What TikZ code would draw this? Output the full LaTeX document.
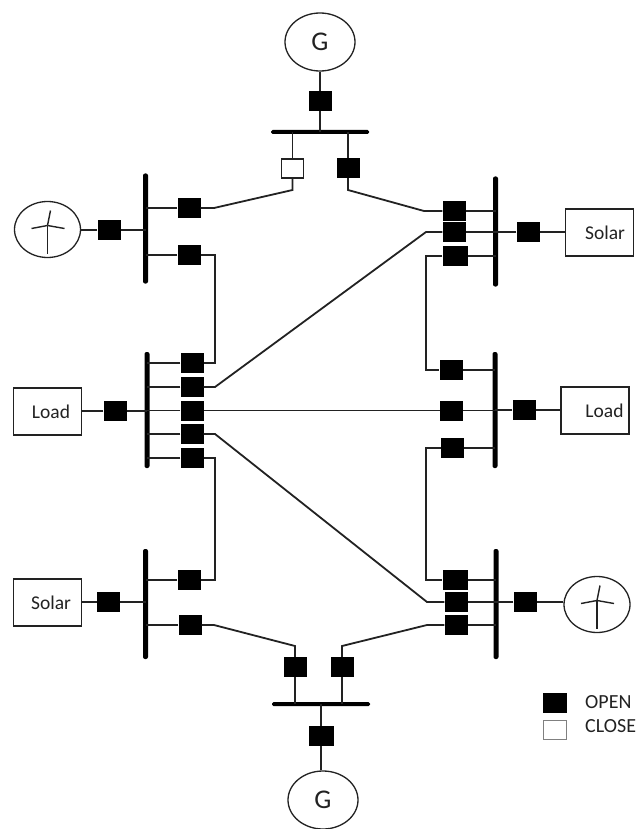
\documentclass[tikz,border=0pt]{standalone}
\usepackage{fontspec}
\setmainfont{Carlito}
\usetikzlibrary{shapes.geometric}
\definecolor{ink}{HTML}{222222}
\tikzset{
  wire/.style={draw=ink,line width=1.4pt},
  slant/.style={draw=ink,line width=1.8pt},
  brk/.style={fill=black,inner sep=0pt,minimum width=23pt,minimum height=20pt},
  brkw/.style={brk,minimum width=25pt},
  closed/.style={draw=ink,line width=1.2pt,fill=white,inner sep=0pt,minimum width=22pt,minimum height=19pt},
  vbus/.style={fill=black,inner sep=0pt,rounded corners=2pt,minimum width=5pt,minimum height=110pt},
  hbus/.style={fill=black,inner sep=0pt,rounded corners=1.5pt,minimum width=98pt,minimum height=4pt},
  unit/.style={ellipse,draw=ink,line width=1.3pt,fill=white,inner sep=0pt,minimum width=66pt,minimum height=56pt},
  term/.style={draw=ink,line width=1.2pt,fill=white,inner sep=0pt,minimum width=68pt,minimum height=47pt,text=ink,font=\fontsize{19.5}{22}\selectfont},
  legend/.style={anchor=west,inner sep=0pt,text=ink,font=\fontsize{20}{22}\selectfont},
  gen/.style={unit,minimum width=70pt,minimum height=58pt,text=ink,font=\fontsize{27}{30}\selectfont}
}
\begin{document}
\begin{tikzpicture}[x=1pt,y=-1pt]
  \useasboundingbox (0,0) rectangle (638,829);
  \path
  % busbars
  (320,132) node[hbus](busT) {}
  (321,704) node[hbus](busB) {}
  (145.5,228.5) node[vbus](busLa) {}
  (147,410) node[vbus,minimum height=116pt](busLb) {}
  (145.5,604) node[vbus](busLc) {}
  (495.5,231.5) node[vbus](busRa) {}
  (495,410) node[vbus,minimum height=116pt](busRb) {}
  (496,604) node[vbus](busRc) {}
  % sources and loads
  (320,42) node[gen](genT) {G}
  (323,800) node[gen](genB) {G}
  (47.5,229.5) node[unit](windL) {}
  (597,604.5) node[unit](windR) {}
  (47.5,411.5) node[term](loadL) {\hspace*{7pt}Load}
  (595,410.5) node[term](loadR) {\hspace*{19pt}Load}
  (599.5,232.5) node[term](solarR) {\hspace*{11pt}Solar}
  (47.5,602.5) node[term](solarL) {\hspace*{7pt}Solar}
  % breakers
  (320,101) node[brk](brkGT) {}
  (292.5,168.5) node[closed](brkTl) {}
  (348,168) node[brk](brkTr) {}
  (321,736) node[brkw](brkGB) {}
  (295,667) node[brk](brkBl) {}
  (342,667) node[brk](brkBr) {}
  (109,230) node[brk](brkWL) {}
  (189,208) node[brk](brkLa) {}
  (189,255) node[brk](brkLb) {}
  (192,363) node[brk](brkMa) {}
  (192,387) node[brk](brkMb) {}
  (192,410.5) node[brk](brkMc) {}
  (192,434) node[brk](brkMd) {}
  (192,458) node[brk](brkMe) {}
  (115,411) node[brk](brkLL) {}
  (189,580) node[brk](brkSa) {}
  (190,625) node[brk](brkSb) {}
  (108.5,602) node[brk](brkSL) {}
  (454,211) node[brk](brkRa) {}
  (454,232) node[brk](brkRb) {}
  (455,256) node[brkw](brkRc) {}
  (528,232) node[brk](brkSR) {}
  (451,370) node[brk](brkPa) {}
  (451.5,410.5) node[brk](brkPb) {}
  (452.5,448) node[brk](brkPc) {}
  (524,410) node[brk](brkLR) {}
  (455,580) node[brkw](brkQa) {}
  (456,602) node[brk](brkQb) {}
  (456,625) node[brk](brkQc) {}
  (525,602) node[brk](brkWR) {}
  % legend
  (555,703) node[brk,minimum width=24pt](keyOpen) {}
  (555,730) node[closed,minimum width=23pt,draw=gray](keyClose) {}
  (585,702) node[legend](txtOpen) {OPEN}
  (585,726) node[legend](txtClose) {CLOSE}
  ;

  % generators
  \draw[wire] (genT) -- (brkGT);
  \draw[wire] (brkGT) -- (brkGT |- busT);
  \draw[slant] (brkGB) -- (brkGB |- genB.north);
  \draw[wire] (brkGB) -- (brkGB |- busB);

  % top bus to upper buses
  \draw[wire] (brkTl |- busT) -- (brkTl);
  \draw[wire] (brkTr |- busT) -- (brkTr);
  \draw[slant] (brkTl) -- (292.5,190) -- (214,208) -- (brkLa);
  \draw[slant] (brkTr) -- (348,190) -- (424,211) -- (brkRa);

  % bottom bus to lower buses
  \draw[wire] (brkBl |- busB) -- (brkBl);
  \draw[wire] (brkBr |- busB) -- (brkBr);
  \draw[slant] (brkBl) -- (295,646) -- (214,625) -- (brkSb);
  \draw[slant] (brkBr) -- (342,646) -- (427,625) -- (brkQc);

  % feeders on the left and the right
  \draw[wire] (brkLb) -- (215,255) -- (215,363) -- (brkMa);
  \draw[wire] (brkMe) -- (215,458) -- (215,580) -- (brkSa);
  \draw[wire] (brkRc) -- (426,256) -- (426,370) -- (brkPa);
  \draw[wire] (brkPc) -- (426,448) -- (426,580) -- (brkQa);

  % crossing lines
  \draw[slant] (brkMb) -- (215,387) -- (426,232) -- (brkRb);
  \draw[wire] (brkMc) -- (brkPb);
  \draw[slant] (brkMd) -- (215,434) -- (427,602) -- (brkQb);

  % breakers to buses
  \foreach \b/\s in {brkLa/busLa,brkLb/busLa,brkWL/busLa,
    brkMa/busLb,brkMb/busLb,brkMc/busLb,brkMd/busLb,brkMe/busLb,brkLL/busLb,
    brkSa/busLc,brkSb/busLc,brkSL/busLc,
    brkRa/busRa,brkRb/busRa,brkRc/busRa,brkSR/busRa,
    brkPa/busRb,brkPb/busRb,brkPc/busRb,brkLR/busRb,
    brkQa/busRc,brkQb/busRc,brkQc/busRc,brkWR/busRc}
    \draw[wire] (\b) -- (\b -| \s);

  % breakers to terminals
  \foreach \b/\s in {brkWL/windL,brkLL/loadL,brkSL/solarL}
    \draw[wire] (\b) -- (\b -| \s.east);
  \foreach \b/\s in {brkSR/solarR,brkLR/loadR,brkWR/windR}
    \draw[wire] (\b) -- (\b -| \s.west);

  % turbines
  \foreach \w in {windL,windR} {
    \draw[wire] ([shift={(0,-4)}]\w.center) -- ([shift={(0,24)}]\w.center);
    \draw[wire] ([shift={(0,-4)}]\w.center) -- ([shift={(3,-19)}]\w.center);
    \draw[wire] ([shift={(0,-4)}]\w.center) -- ([shift={(-16,-1)}]\w.center);
    \draw[wire] ([shift={(0,-4)}]\w.center) -- ([shift={(17,-1)}]\w.center);
  }
\end{tikzpicture}
\end{document}
